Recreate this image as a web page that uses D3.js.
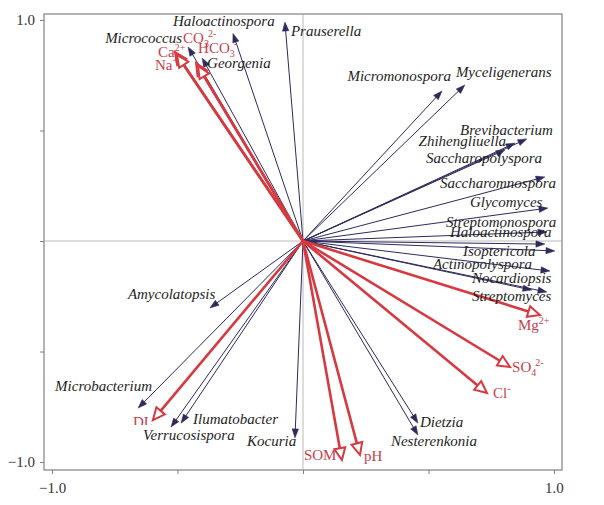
<!DOCTYPE html>
<html><head><meta charset="utf-8">
<script src="https://cdn.jsdelivr.net/npm/d3@7"></script>
<style>body{margin:0;background:#fff}svg{display:block}</style>
</head><body>
<svg id="c" width="604" height="505"></svg>
<script>
// ---- data ----
const speciesNames = ["Haloactinospora","Prauserella","Micrococcus","Georgenia","Micromonospora","Myceligenerans",
  "Brevibacterium","Zhihengliuella","Saccharopolyspora","Saccharomnospora","Glycomyces","Streptomonospora",
  "Haloactinospora","Isoptericola","Actinopolyspora","Nocardiopsis","Streptomyces","Amycolatopsis",
  "Microbacterium","Ilumatobacter","Verrucosispora","Kocuria","Dietzia","Nesterenkonia"];
const speciesX = [-0.279,-0.072,-0.458,-0.402,0.554,0.645,0.892,0.845,0.805,0.964,0.976,0.972,0.964,1.004,0.984,0.972,0.912,-0.371,-0.657,-0.486,-0.526,-0.032,0.458,0.458];
const speciesY = [0.939,0.991,0.878,0.828,0.679,0.706,0.462,0.443,0.412,0.290,0.149,0.041,-0.014,-0.045,-0.136,-0.231,-0.222,-0.303,-0.756,-0.824,-0.842,-0.891,-0.824,-0.878];

const envNames = ["Ca2+","Na+","CO32-","HCO3-","Mg2+","SO42-","Cl-","SOM","pH","DL"];
const envX = [-0.510,-0.502,-0.426,-0.418,0.944,0.825,0.733,0.155,0.227,-0.598];
const envY = [0.855,0.842,0.805,0.792,-0.335,-0.570,-0.688,-0.991,-0.968,-0.810];

const tickValues = [-1,-0.5,0,0.5,1];
const tickLabels = ["−1.0","","","","1.0"];

// ---- layout (label anchor offsets from arrow tip, px) ----
const speciesLabelLayout = [
  [-60,-7,"start"],[6,14,"start"],[-6,-4,"end"],[5,10,"start"],[9,-10,"end"],[-9,-8,"start"],
  [26,-4,"end"],[-9,3,"end"],[-79,13,"start"],[-105,11,"start"],[-78,-1,"start"],[-101,-5,"start"],
  [-95,-7,"start"],[-92,5,"start"],[-117,-2,"start"],[-75,-9,"start"],[-60,11,"start"],[-82,-9,"start"],
  [-83,-17,"start"],[12,1,"start"],[-28,13,"start"],[-48,8,"start"],[2,4,"start"],[-27,11,"start"]];
const envLabelLayout = [
  [-17,5],[-22,15],[-13,-20],[0,-13],[-22,15],[2,5],[6,5],[-38,0],[4,6],[-20,7]];

const W=604,H=505;
const x = d3.scaleLinear().domain([-1.032,1.032]).range([44,562]);
const y = d3.scaleLinear().domain([-1.036,1.027]).range([470,14]);
const svg = d3.select("#c");
const serif = "'Liberation Serif','Times New Roman',serif";

// frame
svg.append("rect").attr("x",44).attr("y",14).attr("width",518).attr("height",456)
  .attr("fill","none").attr("stroke","#808080").attr("stroke-width",1.2);
// zero lines
svg.append("line").attr("x1",x(0)).attr("x2",x(0)).attr("y1",14).attr("y2",470).attr("stroke","#a8a8a8").attr("stroke-width",0.8);
svg.append("line").attr("x1",44).attr("x2",562).attr("y1",y(0)).attr("y2",y(0)).attr("stroke","#a8a8a8").attr("stroke-width",0.8);

// axes
const fmt = (d)=>tickLabels[tickValues.indexOf(d)];
const xa = svg.append("g").attr("transform","translate(0,470)")
  .call(d3.axisBottom(x).tickValues(tickValues).tickFormat(fmt).tickSize(4).tickPadding(8));
const ya = svg.append("g").attr("transform","translate(44,0)")
  .call(d3.axisLeft(y).tickValues(tickValues).tickFormat(fmt).tickSize(4).tickPadding(5));
[xa,ya].forEach(g=>{
  g.select(".domain").remove();
  g.selectAll("line").attr("stroke","#808080");
  g.selectAll("text").attr("font-family",serif).attr("font-size",15).attr("fill","#333");
});

const dark="#2e2a5c", red="#d63a40", redText="#c8404e";

function arrow(g,tx,ty,color,lw,hl,hw,hollow){
  const x0=x(0),y0=y(0),X=x(tx),Y=y(ty);
  const dx=X-x0,dy=Y-y0,L=Math.hypot(dx,dy),ux=dx/L,uy=dy/L;
  const bx=X-ux*hl,by=Y-uy*hl;
  g.append("line").attr("x1",x0).attr("y1",y0).attr("x2",hollow?bx:X-ux*hl*0.6).attr("y2",hollow?by:Y-uy*hl*0.6)
    .attr("stroke",color).attr("stroke-width",lw);
  const px=-uy,py=ux;
  g.append("path").attr("d",`M${X},${Y}L${bx+px*hw},${by+py*hw}L${bx-px*hw},${by-py*hw}Z`)
    .attr("fill",hollow?"#fff":color).attr("stroke",color).attr("stroke-width",hollow?2:0.5).attr("stroke-linejoin","miter");
}

const gs = svg.append("g");
speciesNames.forEach((n,i)=>arrow(gs,speciesX[i],speciesY[i],dark,1,9,3.2,false));
const ge = svg.append("g");
envNames.forEach((n,i)=>arrow(ge,envX[i],envY[i],red,2.6,12,5.5,true));

// species labels
const gl = svg.append("g").attr("font-family",serif).attr("font-size",15).attr("font-style","italic").attr("fill","#1e1e1e");
speciesNames.forEach((n,i)=>{
  const [ox,oy,a]=speciesLabelLayout[i];
  gl.append("text").attr("x",x(speciesX[i])+ox).attr("y",y(speciesY[i])+oy).attr("text-anchor",a).text(n);
});

// env labels with sub/superscripts
const parts = {
  "Ca2+":[["Ca",""],["2+","sup"]],
  "Na+":[["Na",""],["+","sup"]],
  "CO32-":[["CO",""],["3","sub"],["2-","sup2"]],
  "HCO3-":[["HCO",""],["3","sub"],["-","sup2"]],
  "Mg2+":[["Mg",""],["2+","sup"]],
  "SO42-":[["SO",""],["4","sub"],["2-","sup2"]],
  "Cl-":[["Cl",""],["-","sup"]],
  "SOM":[["SOM",""]],"pH":[["pH",""]],"DL":[["DL",""]]
};
svg.append("defs").append("clipPath").attr("id","dlclip").append("rect").attr("x",0).attr("y",0).attr("width",W).attr("height",425);
const gel = svg.append("g").attr("font-family",serif).attr("font-size",15).attr("fill",redText);
envNames.forEach((n,i)=>{
  const [ox,oy]=envLabelLayout[i];
  const t=gel.append("text").attr("x",x(envX[i])+ox).attr("y",y(envY[i])+oy);
  if(n==="DL") t.attr("clip-path","url(#dlclip)");
  let subW=0;
  parts[n].forEach(([s,k])=>{
    const ts=t.append("tspan").text(s);
    if(k==="sub"){ts.attr("font-size",10).attr("dy",4);}
    else if(k==="sup"){ts.attr("font-size",10).attr("dy",-6);}
    else if(k==="sup2"){ts.attr("font-size",10).attr("dx",-1).attr("dy",-10);}
  });
});
</script>
</body></html>
